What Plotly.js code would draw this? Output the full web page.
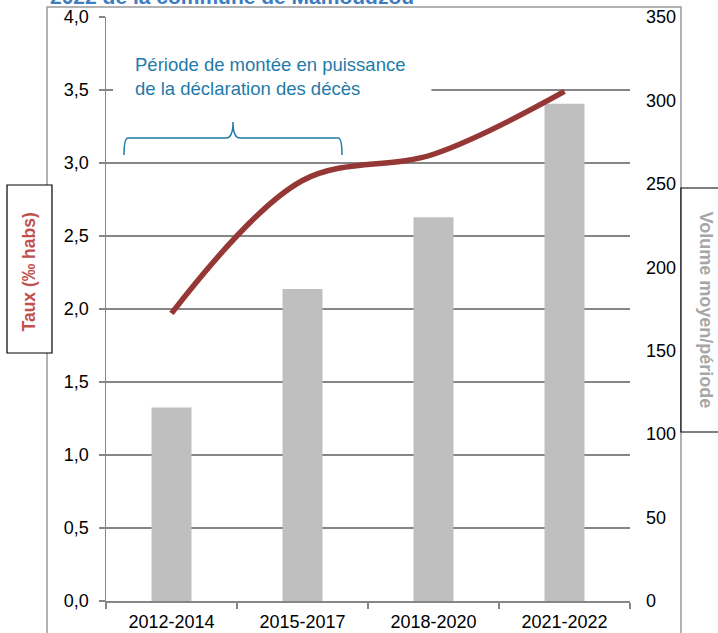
<!DOCTYPE html>
<html>
<head>
<meta charset="utf-8">
<script src="https://cdn.plot.ly/plotly-3.0.1.min.js"></script>
<style>html,body{margin:0;padding:0;background:#fff;}#chart{width:718px;height:633px;}</style>
</head>
<body>
<div id="chart"></div>
<script>
// ---- data ----
const periods = ["2012-2014", "2015-2017", "2018-2020", "2021-2022"];
const volumeMoyen = [116, 187, 230, 298];      // bars, right axis
const taux = [1.97, 2.88, 3.06, 3.49];          // line, left axis (‰ habs)
const leftTicks = [0, 0.5, 1, 1.5, 2, 2.5, 3, 3.5, 4];
const rightTicks = [0, 50, 100, 150, 200, 250, 300, 350];
const titleText = "2022 de la commune de Mamoudzou";
const noteText = "Période de montée en puissance<br>de la déclaration des décès";
const leftTitle = "Taux (‰ habs)";
const rightTitle = "Volume moyen/période";

const FONT = "Liberation Sans, Arial, sans-serif";
const GRID = "#868686";

const traces = [
  {
    type: "bar", x: periods, y: volumeMoyen, yaxis: "y",
    marker: {color: "#BFBFBF"}, hoverinfo: "skip", showlegend: false
  },
  {
    type: "scatter", mode: "lines", x: periods, y: taux, yaxis: "y2",
    line: {color: "#953735", width: 5.5, shape: "spline", smoothing: 1},
    hoverinfo: "skip", showlegend: false
  }
];

const layout = {
  width: 718, height: 633,
  margin: {l: 106, r: 88, t: 17, b: 32, pad: 0},
  paper_bgcolor: "#ffffff", plot_bgcolor: "#ffffff",
  separators: ", ",
  font: {family: FONT, size: 18, color: "#000000"},
  bargap: 0.695,
  showlegend: false,
  xaxis: {
    type: "category", showgrid: false, zeroline: false,
    showline: true, linecolor: GRID, linewidth: 1.5,
    ticks: "outside", tickson: "boundaries", ticklen: 6, tickcolor: GRID, tickwidth: 1.5,
    tickfont: {family: FONT, size: 18, color: "#000"},
    ticklabelstandoff: 4
  },
  yaxis: {
    side: "right", range: [0, 350], tickvals: rightTicks, ticktext: rightTicks.map(String),
    showgrid: false, zeroline: false, showline: false, ticks: "",
    tickfont: {family: FONT, size: 18, color: "#000"},
    ticklabelstandoff: 15
  },
  yaxis2: {
    side: "left", overlaying: "y", range: [0, 4], tickvals: leftTicks, tickformat: ".1f",
    showgrid: true, gridcolor: GRID, gridwidth: 1.5, zeroline: false,
    showline: true, linecolor: GRID, linewidth: 1.5,
    ticks: "outside", ticklen: 6, tickcolor: GRID, tickwidth: 1.5,
    tickfont: {family: FONT, size: 18, color: "#000"},
    ticklabelstandoff: 6
  },
  shapes: [
    // outer frame
    {type: "rect", xref: "paper", yref: "paper", x0: -0.1126, x1: 1.0973, y0: -0.08, y1: 1.0171,
     line: {color: "#9A9A9A", width: 1.5}, fillcolor: "rgba(0,0,0,0)", layer: "above"},
    // white background behind note (hides gridline)
    {type: "rect", xref: "paper", yref: "paper", x0: 0.0134, x1: 0.621, y0: 0.855, y1: 0.94,
     line: {width: 0}, fillcolor: "#ffffff", layer: "above"},
    // brace
    {type: "path", xref: "paper", yref: "paper", layer: "above",
     path: "M 0.0344 0.7637 Q 0.0344 0.7928 0.0420 0.7928 L 0.2290 0.7928 Q 0.2424 0.7928 0.2424 0.8202 Q 0.2424 0.7928 0.2558 0.7928 L 0.4428 0.7928 Q 0.4504 0.7928 0.4504 0.7637",
     line: {color: "#1F7BA8", width: 1.5}},
    // left title box
    {type: "rect", xref: "paper", yref: "paper", x0: -0.1889, x1: -0.1031, y0: 0.4247, y1: 0.7123,
     line: {color: "#000", width: 1.2}, fillcolor: "#ffffff", layer: "above"},
    // right title box
    {type: "rect", xref: "paper", yref: "paper", x0: 1.0973, x1: 1.19, y0: 0.2894, y1: 0.7072,
     line: {color: "#000", width: 1.2}, fillcolor: "#ffffff", layer: "above"}
  ],
  annotations: [
    {xref: "paper", yref: "paper", x: -0.1107, y: 1.012, xanchor: "left", yanchor: "bottom",
     text: "<b>" + titleText + "</b>", showarrow: false,
     font: {family: FONT, size: 21, color: "#3E7CC2"}},
    {xref: "paper", yref: "paper", x: 0.051, y: 0.8973, xanchor: "left", yanchor: "middle", align: "left",
     text: noteText, showarrow: false,
     font: {family: FONT, size: 18.5, color: "#1F7BA8"}},
    {xref: "paper", yref: "paper", x: -0.1479, y: 0.5634, xanchor: "center", yanchor: "middle",
     text: "<b>" + leftTitle + "</b>", textangle: -90, showarrow: false,
     font: {family: FONT, size: 17.5, color: "#C0504D"}},
    {xref: "paper", yref: "paper", x: 1.1441, y: 0.4983, xanchor: "center", yanchor: "middle",
     text: "<b>" + rightTitle + "</b>", textangle: 90, showarrow: false,
     font: {family: FONT, size: 18, color: "#A6A6A6"}}
  ]
};

Plotly.newPlot("chart", traces, layout, {staticPlot: true, displayModeBar: false});
</script>
</body>
</html>
